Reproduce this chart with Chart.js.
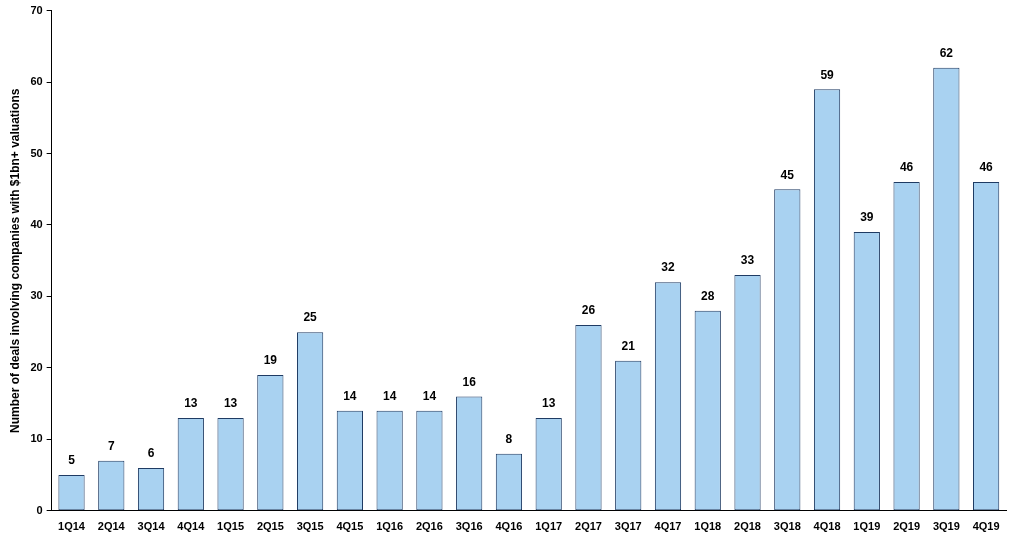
<!DOCTYPE html>
<html>
<head>
<meta charset="utf-8">
<script src="https://cdn.jsdelivr.net/npm/chart.js@4"></script>
<style>
  body { margin: 0; background: #fff; }
  #wrap { width: 1016px; height: 536px; }
</style>
</head>
<body>
<div id="wrap"><canvas id="chart"></canvas></div>
<script>
const quarters = ['1Q14','2Q14','3Q14','4Q14','1Q15','2Q15','3Q15','4Q15','1Q16','2Q16','3Q16','4Q16',
  '1Q17','2Q17','3Q17','4Q17','1Q18','2Q18','3Q18','4Q18','1Q19','2Q19','3Q19','4Q19'];
const deals = [5,7,6,13,13,19,25,14,14,14,16,8,13,26,21,32,28,33,45,59,39,46,62,46];
const yTicks = [0,10,20,30,40,50,60,70];

// draws the value above each bar
const valueLabels = {
  id: 'valueLabels',
  afterDatasetsDraw(chart) {
    const ctx = chart.ctx;
    const meta = chart.getDatasetMeta(0);
    ctx.save();
    ctx.font = 'bold 12px Arial, "Liberation Sans", sans-serif';
    ctx.fillStyle = '#000';
    ctx.textAlign = 'center';
    ctx.textBaseline = 'bottom';
    meta.data.forEach((bar, i) => {
      ctx.fillText(deals[i], bar.x, bar.y - 8);
    });
    ctx.restore();
  }
};

new Chart(document.getElementById('chart'), {
  type: 'bar',
  data: {
    labels: quarters,
    datasets: [{
      data: deals,
      backgroundColor: '#A9D2F1',
      borderColor: '#1F3B63',
      borderWidth: 1,
      borderSkipped: false,
      barPercentage: 0.66,
      categoryPercentage: 1
    }]
  },
  options: {
    responsive: true,
    maintainAspectRatio: false,
    animation: false,
    layout: { padding: { top: 8, right: 10, left: 4, bottom: 0 } },
    plugins: { legend: { display: false }, tooltip: { enabled: false } },
    scales: {
      x: {
        grid: { display: false, drawTicks: true },
        border: { color: '#000' },
        ticks: { color: '#000', font: { family: 'Arial, "Liberation Sans"', size: 11, weight: 'bold' }, maxRotation: 0, autoSkip: false, padding: 2 }
      },
      y: {
        min: 0, max: 70,
        afterBuildTicks: axis => { axis.ticks = yTicks.map(v => ({ value: v })); },
        grid: { display: true, drawOnChartArea: false, color: '#000', tickLength: 5 },
        border: { color: '#000' },
        ticks: { color: '#000', font: { family: 'Arial, "Liberation Sans"', size: 11, weight: 'bold' }, padding: 4 },
        title: { display: true, text: 'Number of deals involving companies with $1bn+ valuations', color: '#000',
          font: { family: 'Arial, "Liberation Sans"', size: 12, weight: 'bold' }, padding: 4 }
      }
    }
  },
  plugins: [valueLabels]
});
</script>
</body>
</html>
